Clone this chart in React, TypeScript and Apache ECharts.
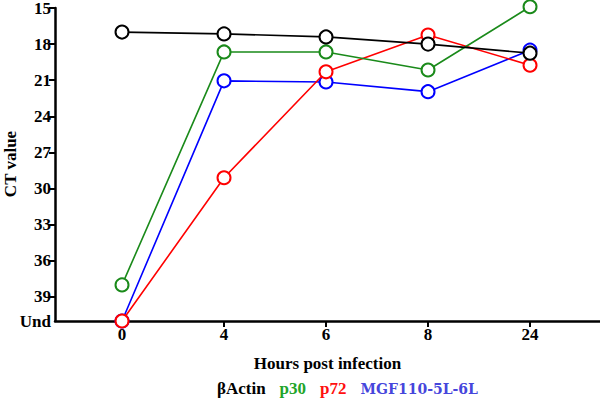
import React, { useEffect, useRef } from "react";
import * as echarts from "echarts";

const categories = ["0", "4", "6", "8", "24"];
const yTicks = [15, 18, 21, 24, 27, 30, 33, 36, 39, 41];
const undValue = 41;
const yTitle = "CT value";
const xTitle = "Hours post infection";
const seriesNames = ["βActin", "p30", "p72", "MGF110-5L-6L"];
const betaActin = [17.0, 17.15, 17.4, 18.0, 18.75];
const p30 = [38.0, 18.65, 18.65, 20.15, 14.9];
const p72 = [41, 29.1, 20.3, 17.25, 19.75];
const mgf = [41, 21.05, 21.15, 21.95, 18.5];

const lineColors = ["#000000", "#1a8a1a", "#ff0000", "#0000ff"];
const legendColors = ["#000000", "#22a52a", "#ff1010", "#4646dc"];

const FONT = "Times New Roman";

export default function App() {
  const ref = useRef<HTMLDivElement>(null);
  useEffect(() => {
    if (!ref.current) return;
    const chart = echarts.init(ref.current, undefined, { renderer: "svg" });
    const toPairs = (arr: number[]) => arr.map((v, i) => [i, v]);
    const values = [betaActin, p30, p72, mgf];
    const order = [3, 2, 1, 0];
    const series = order.map((k) => ({
      name: seriesNames[k],
      type: "line",
      data: toPairs(values[k]),
      symbol: "emptyCircle",
      symbolSize: 13,
      clip: false,
      z: 2 + (3 - k),
      lineStyle: { color: lineColors[k], width: 1.6 },
      itemStyle: { color: lineColors[k], borderColor: lineColors[k], borderWidth: 1.6 },
      emphasis: { disabled: true },
    }));
    chart.setOption({
      animation: false,
      grid: { left: 55, right: 0, top: 8, bottom: 85, containLabel: false, outerBoundsMode: "none" },
      graphic: [
        {
          type: "text",
          x: 10,
          y: 164,
          rotation: Math.PI / 2,
          style: {
            text: yTitle,
            fill: "#000",
            font: `bold 17px '${FONT}'`,
            align: "center",
            verticalAlign: "middle",
          },
        },
      ],
      legend: {
        bottom: 4,
        left: 207,
        icon: "none",
        itemWidth: 0,
        itemHeight: 0,
        itemGap: 9,
        selectedMode: false,
        data: seriesNames.map((n, i) => ({
          name: n,
          textStyle: {
            color: legendColors[i],
            fontFamily: i === 3 ? "DejaVu Serif" : FONT,
            fontWeight: "bold",
            fontSize: i === 3 ? 14 : 17,
          },
        })),
      },
      xAxis: {
        type: "value",
        min: -0.657,
        max: 4.686,
        name: xTitle,
        nameLocation: "middle",
        nameGap: 34,
        nameTextStyle: { color: "#000", fontFamily: FONT, fontWeight: "bold", fontSize: 17 },
        axisLine: { show: true, onZero: false, lineStyle: { color: "#000", width: 2.5 } },
        axisTick: { show: true, customValues: [0, 1, 2, 3, 4], length: 6, lineStyle: { color: "#000", width: 2 } },
        axisLabel: {
          customValues: [0, 1, 2, 3, 4],
          formatter: (v: number) => categories[Math.round(v)] ?? "",
          color: "#000",
          fontFamily: FONT,
          fontWeight: "bold",
          fontSize: 17,
          margin: 5,
        },
        splitLine: { show: false },
      },
      yAxis: {
        type: "value",
        inverse: true,
        min: 15,
        max: undValue,
        axisLine: { show: true, onZero: false, lineStyle: { color: "#000", width: 2.5 } },
        axisTick: { show: true, customValues: yTicks.slice(0, -1), length: 6, lineStyle: { color: "#000", width: 2 } },
        axisLabel: {
          customValues: yTicks,
          formatter: (v: number) => (v === undValue ? "Und" : String(v)),
          color: "#000",
          fontFamily: FONT,
          fontWeight: "bold",
          fontSize: 17,
          margin: 4,
        },
        splitLine: { show: false },
      },
      series,
    });
    return () => chart.dispose();
  }, []);
  return (
    <div
      ref={ref}
      style={{ position: "fixed", left: 0, top: 0, width: 600, height: 406, background: "#fff" }}
    />
  );
}
